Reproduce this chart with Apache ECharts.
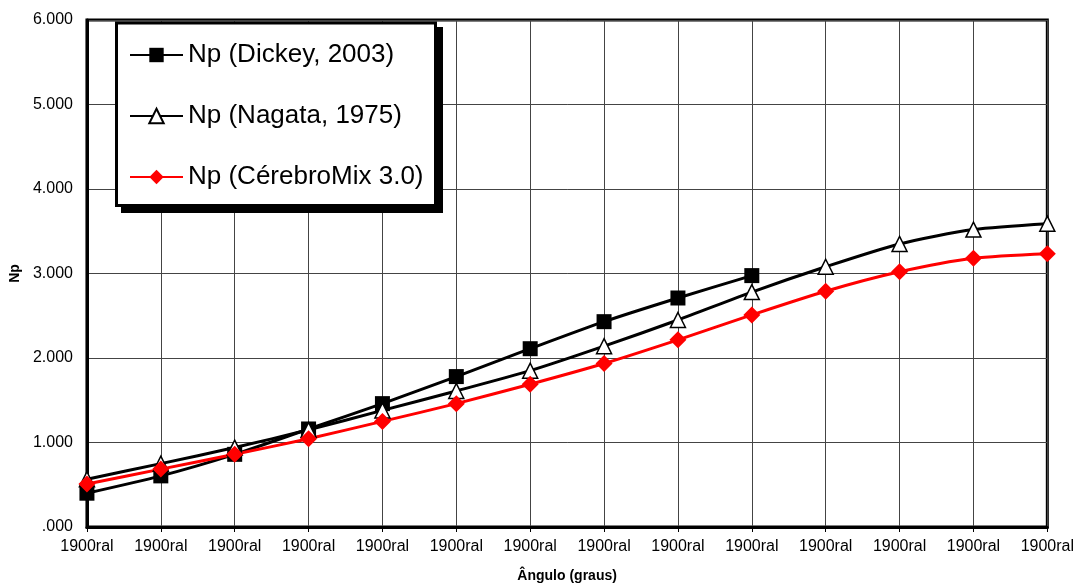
<!DOCTYPE html>
<html>
<head>
<meta charset="utf-8">
<script src="https://cdn.jsdelivr.net/npm/echarts@6/dist/echarts.min.js"></script>
<style>html,body{margin:0;padding:0;background:#fff;}#c{width:1077px;height:588px;}</style>
</head>
<body>
<div id="c"></div>
<script>
var categories = ['1900ral','1900ral','1900ral','1900ral','1900ral','1900ral','1900ral','1900ral','1900ral','1900ral','1900ral','1900ral','1900ral','1900ral'];
var dickey = [400, 605, 860, 1160, 1460, 1780, 2110, 2430, 2710, 2975];
var nagata = [565, 750, 940, 1150, 1380, 1610, 1850, 2140, 2450, 2780, 3080, 3350, 3520, 3590];
var cerebro = [510, 685, 860, 1045, 1250, 1460, 1690, 1935, 2215, 2510, 2790, 3020, 3180, 3235];
var seriesNames = ['Np (Dickey, 2003)', 'Np (Nagata, 1975)', 'Np (CérebroMix 3.0)'];
var yTicks = [0, 1000, 2000, 3000, 4000, 5000, 6000];

var chart = echarts.init(document.getElementById('c'));
var font = 'Liberation Sans, Arial, sans-serif';
function fmt(v){
  var s = (v/1000).toFixed(3);
  return s.charAt(0)==='0' ? s.substring(1) : s;
}
chart.setOption({
  animation: false,
  backgroundColor: '#fff',
  textStyle: {fontFamily: font},
  grid: {left: 84, right: 29, top: 20, bottom: 59, show: true, borderColor: '#000', borderWidth: 3, backgroundColor: 'transparent'},
  graphic: [
    {type: 'rect', z: 10, shape: {x: 121, y: 27, width: 322, height: 186}, style: {fill: '#000'}},
    {type: 'rect', z: 11, shape: {x: 116.5, y: 23, width: 319, height: 182.5}, style: {fill: '#fff', stroke: '#000', lineWidth: 3}}
  ],
  legend: {
    z: 20,
    orient: 'vertical', left: 129, top: 42,
    padding: 0,
    itemGap: 35, itemWidth: 53, itemHeight: 18,
    textStyle: {fontSize: 26, color: '#000', fontFamily: font},
    data: seriesNames
  },
  xAxis: {
    type: 'category', data: categories, boundaryGap: false,
    name: 'Ângulo (graus)', nameLocation: 'middle', nameGap: 42,
    nameTextStyle: {fontWeight: 'bold', fontSize: 14, color: '#000', fontFamily: font},
    axisLine: {lineStyle: {color: '#000', width: 3}},
    axisTick: {show: true, length: 5, lineStyle: {color: '#000'}},
    axisLabel: {color: '#000', fontSize: 16, margin: 12, interval: 0, fontFamily: font},
    splitLine: {show: true, lineStyle: {color: '#444', width: 1}}
  },
  yAxis: {
    type: 'value', min: 0, max: 6000, interval: 1000,
    name: 'Np', nameLocation: 'middle', nameGap: 54, nameRotate: 90,
    nameTextStyle: {fontWeight: 'bold', fontSize: 14, color: '#000', fontFamily: font},
    axisLine: {show: true, lineStyle: {color: '#000', width: 3}},
    axisTick: {show: false},
    axisLabel: {color: '#000', fontSize: 16, margin: 14, fontFamily: font, formatter: function(v){ return yTicks.indexOf(v) >= 0 ? fmt(v) : ''; }},
    splitLine: {show: true, lineStyle: {color: '#444', width: 1}}
  },
  series: [
    {name: seriesNames[0], type: 'line', data: dickey, smooth: 0.25,
     symbol: 'rect', symbolSize: 15,
     lineStyle: {color: '#000', width: 3}, itemStyle: {color: '#000', borderColor: '#000', borderWidth: 0}},
    {name: seriesNames[1], type: 'line', data: nagata, smooth: 0.25,
     symbol: 'triangle', symbolSize: 15,
     lineStyle: {color: '#000', width: 3}, itemStyle: {color: '#fff', borderColor: '#000', borderWidth: 1.5}},
    {name: seriesNames[2], type: 'line', data: cerebro, smooth: 0.25,
     symbol: 'diamond', symbolSize: 17,
     lineStyle: {color: '#ff0000', width: 3}, itemStyle: {color: '#ff0000', borderColor: '#ff0000', borderWidth: 0}}
  ]
});
</script>
</body>
</html>
